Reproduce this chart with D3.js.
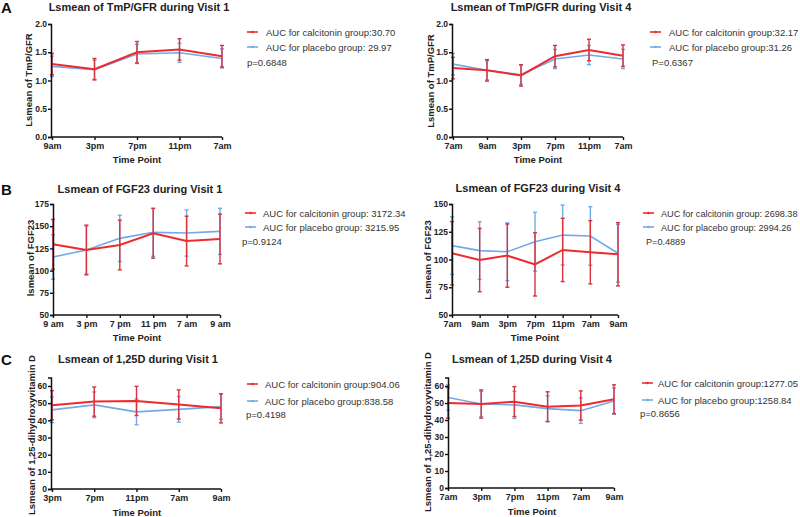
<!DOCTYPE html>
<html><head><meta charset="utf-8">
<script src="https://cdn.jsdelivr.net/npm/d3@7"></script>
<style>body{margin:0;background:#fff} svg{display:block}</style>
</head><body>
<svg id="chart" width="800" height="517"></svg>
<script>
// ---------- DATA ----------
const tmpV1Times = ["9am","3pm","7pm","11pm","7am"];
const tmpV1Calcitonin = [1.29,1.20,1.50,1.55,1.43];
const tmpV1CalcitoninErr = [0.19,0.19,0.19,0.19,0.19];
const tmpV1Placebo = [1.25,1.19,1.47,1.49,1.39];
const tmpV1PlaceboErr = [0.18,0.17,0.17,0.17,0.17];
const tmpV1Legend = ["AUC for calcitonin group:30.70","AUC for placebo group: 29.97","p=0.6848"];
const tmpTicks = [0,0.5,1.0,1.5,2.0];

const tmpV4Times = ["7am","9am","3pm","7pm","11pm","7am"];
const tmpV4Calcitonin = [1.22,1.18,1.09,1.43,1.54,1.44];
const tmpV4CalcitoninErr = [0.19,0.19,0.19,0.19,0.19,0.19];
const tmpV4Placebo = [1.29,1.18,1.10,1.38,1.45,1.38];
const tmpV4PlaceboErr = [0.19,0.17,0.17,0.17,0.17,0.17];
const tmpV4Legend = ["AUC for calcitonin group:32.17","AUC for placebo group:31.26","P=0.6367"];

const fgfV1Times = ["9 am","3 pm","7 pm","11 pm","7 am","9 am"];
const fgfV1Calcitonin = [129.6,123.2,128.8,142.0,133.3,135.6];
const fgfV1CalcitoninErr = [28,28,28,28,28,28];
const fgfV1Placebo = [115.3,123.2,136.3,143.1,142.3,144.2];
const fgfV1PlaceboErr = [25,27,26,27,26,26];
const fgfV1Legend = ["AUC for calcitonin group: 3172.34","AUC for placebo group: 3215.95","p=0.9124"];
const fgfV1Ticks = [50,75,100,125,150,175];

const fgfV4Times = ["7am","9am","3pm","7pm","11pm","7am","9am"];
const fgfV4Calcitonin = [105.6,99.5,103.5,95.6,108.6,106.5,104.7];
const fgfV4CalcitoninErr = [28.5,28.5,28.5,28.5,28.5,28.5,28.5];
const fgfV4Placebo = [112.5,108.0,107.0,116.0,122.0,121.2,105.6];
const fgfV4PlaceboErr = [26,26,26,26.5,27,26.4,26];
const fgfV4Legend = ["AUC for calcitonin group: 2698.38","AUC for placebo group: 2994.26","P=0.4889"];
const fgfV4Ticks = [50,75,100,125,150];

const vitV1Times = ["3pm","7pm","11pm","7am","9am"];
const vitV1Calcitonin = [48.8,50.9,51.3,49.2,47.0];
const vitV1CalcitoninErr = [8.5,8.5,8.5,8.5,8.5];
const vitV1Placebo = [46.1,49.0,44.9,46.4,48.0];
const vitV1PlaceboErr = [7.5,7.5,7.5,7.5,7.5];
const vitV1Legend = ["AUC for calcitonin group:904.06","AUC for placebo group:838.58","p=0.4198"];
const vitTicks = [0,10,20,30,40,50,60];

const vitV4Times = ["7am","3pm","7pm","11pm","7am","9am"];
const vitV4Calcitonin = [50.0,49.4,50.8,47.8,48.5,52.2];
const vitV4CalcitoninErr = [9,8.3,8.8,8.8,8.6,8.5];
const vitV4Placebo = [53.2,49.4,48.9,46.7,45.5,51.2];
const vitV4PlaceboErr = [7.4,7.5,8,7.5,7.5,7.7];
const vitV4Legend = ["AUC for calcitonin group:1277.05","AUC for placebo group:1258.84","p=0.8656"];

// ---------- LAYOUT ----------
const RED = "#ef2a2f", RED_ERR = "#d9323a", BLUE = "#72aae6";
const panels = [
  {times:tmpV1Times, red:tmpV1Calcitonin, redErr:tmpV1CalcitoninErr, blue:tmpV1Placebo, blueErr:tmpV1PlaceboErr,
   legend:tmpV1Legend, domain:[0,2], ticks:tmpTicks, fmt:d3.format(".1f"),
   title:"Lsmean of TmP/GFR during Visit 1", ylabel:"Lsmean of TmP/GFR", letter:"A",
   ax:51, xr:[52,222], yr:[137,24], titleX:139, titleY:11, ylabX:31.5, ylabY:80, tpX:137, tpY:163,
   lg:{lx:247, tx:266, r1:32, r2:47, px:247, py:65.5, fs:9.5}},
  {times:tmpV4Times, red:tmpV4Calcitonin, redErr:tmpV4CalcitoninErr, blue:tmpV4Placebo, blueErr:tmpV4PlaceboErr,
   legend:tmpV4Legend, domain:[0,2], ticks:tmpTicks, fmt:d3.format(".1f"),
   title:"Lsmean of TmP/GFR during Visit 4", ylabel:"Lsmean of TmP/GFR",
   ax:452, xr:[453,623], yr:[137,24], titleX:541, titleY:11, ylabX:433.5, ylabY:81, tpX:538, tpY:163,
   lg:{lx:650, tx:669, r1:32, r2:47, px:652, py:65.5, fs:9.5}},
  {times:fgfV1Times, red:fgfV1Calcitonin, redErr:fgfV1CalcitoninErr, blue:fgfV1Placebo, blueErr:fgfV1PlaceboErr,
   legend:fgfV1Legend, domain:[50,175], ticks:fgfV1Ticks, fmt:d3.format("d"),
   title:"Lsmean of FGF23 during Visit 1", ylabel:"lsmean of FGF23", letter:"B",
   ax:53, xr:[53,220], yr:[315,204], titleX:140, titleY:193, ylabX:33.5, ylabY:258, tpX:137, tpY:341,
   lg:{lx:245, tx:263, r1:213, r2:227, px:242, py:244.5, fs:9.5}},
  {times:fgfV4Times, red:fgfV4Calcitonin, redErr:fgfV4CalcitoninErr, blue:fgfV4Placebo, blueErr:fgfV4PlaceboErr,
   legend:fgfV4Legend, domain:[50,150], ticks:fgfV4Ticks, fmt:d3.format("d"),
   title:"Lsmean of FGF23 during Visit 4", ylabel:"Lsmean of FGF23",
   ax:452, xr:[452,618], yr:[315,204], titleX:538, titleY:192, ylabX:431, ylabY:260, tpX:535, tpY:341,
   lg:{lx:643, tx:661, r1:213, r2:227, px:646, py:245, fs:9.1}},
  {times:vitV1Times, red:vitV1Calcitonin, redErr:vitV1CalcitoninErr, blue:vitV1Placebo, blueErr:vitV1PlaceboErr,
   legend:vitV1Legend, domain:[0,65], ticks:vitTicks, fmt:d3.format("d"),
   title:"Lsmean of 1,25D during Visit 1", ylabel:"Lsmean of 1,25-dihydroxyvitamin D", letter:"C",
   ax:51, xr:[52,221], yr:[489,377.4], titleX:138, titleY:363, ylabX:35, ylabY:435, tpX:137, tpY:516,
   lg:{lx:247, tx:265, r1:384, r2:401, px:246, py:418, fs:9.5}},
  {times:vitV4Times, red:vitV4Calcitonin, redErr:vitV4CalcitoninErr, blue:vitV4Placebo, blueErr:vitV4PlaceboErr,
   legend:vitV4Legend, domain:[0,65], ticks:vitTicks, fmt:d3.format("d"),
   title:"Lsmean of 1,25D during Visit 4", ylabel:"Lsmean of 1,25-dihydroxyvitamin D",
   ax:448, xr:[448,614], yr:[488,377.5], titleX:532, titleY:363, ylabX:431, ylabY:432, tpX:532, tpY:515,
   lg:{lx:642, tx:658, r1:383, r2:400, px:640, py:417, fs:9.5}}
];

const svg = d3.select("#chart");
const FONT = "'Liberation Sans', Arial, Helvetica, sans-serif";
const NARROW = "'Liberation Sans Narrow', 'Arial Narrow', 'Liberation Sans', Arial, sans-serif";

panels.forEach(p => {
  const g = svg.append("g");
  const idx = p.times.map((_, i) => i);
  const x = d3.scalePoint().domain(idx).range(p.xr);
  const y = d3.scaleLinear().domain(p.domain).range(p.yr);

  // series: placebo first, calcitonin on top
  const series = [
    {vals:p.blue, err:p.blueErr, color:BLUE, ecolor:BLUE, w:1.6},
    {vals:p.red, err:p.redErr, color:RED, ecolor:RED_ERR, w:2}
  ];
  series.forEach(s => {
    const eg = g.append("g");
    idx.forEach(i => {
      const xx = x(i), y1 = y(s.vals[i] - s.err[i]), y2 = y(s.vals[i] + s.err[i]);
      eg.append("line").attr("x1",xx).attr("x2",xx).attr("y1",y1).attr("y2",y2)
        .attr("stroke",s.ecolor).attr("stroke-width",1.4);
      [y1,y2].forEach(yy => eg.append("line").attr("x1",xx-2).attr("x2",xx+2).attr("y1",yy).attr("y2",yy)
        .attr("stroke",s.ecolor).attr("stroke-width",1.4));
    });
    g.append("path").datum(idx)
      .attr("d", d3.line().x(i => x(i)).y(i => y(s.vals[i])))
      .attr("fill","none").attr("stroke",s.color).attr("stroke-width",s.w);
  });

  // axes
  const yAxis = d3.axisLeft(y).tickValues(p.ticks).tickFormat(p.fmt).tickSize(3).tickPadding(1);
  const ya = g.append("g").attr("transform",`translate(${p.ax},0)`).call(yAxis);
  const xAxis = d3.axisBottom(x).tickFormat(i => p.times[i]).tickSize(3).tickPadding(3);
  const xa = g.append("g").attr("transform",`translate(0,${p.yr[0]})`).call(xAxis);
  xa.select(".domain").attr("d", `M${p.ax},0H${p.xr[1]}`);
  [ya, xa].forEach(a => {
    a.selectAll(".domain").attr("stroke","#111").attr("stroke-width",1.5);
    a.selectAll(".tick line").attr("stroke","#111").attr("stroke-width",1.4);
  });
  ya.selectAll(".tick text").attr("font-family",FONT).attr("font-weight","bold").attr("font-size",8.5).attr("fill","#222");
  xa.selectAll(".tick text").attr("font-family",NARROW).attr("font-weight","bold").attr("font-size",9).attr("fill","#222");

  // texts
  g.append("text").attr("x",p.titleX).attr("y",p.titleY).attr("text-anchor","middle")
    .attr("font-family",FONT).attr("font-weight","bold").attr("font-size",11).attr("fill","#222").text(p.title);
  g.append("text").attr("transform",`translate(${p.ylabX},${p.ylabY}) rotate(-90)`).attr("text-anchor","middle")
    .attr("font-family",FONT).attr("font-weight","bold").attr("font-size",9.5).attr("fill","#222").text(p.ylabel);
  g.append("text").attr("x",p.tpX).attr("y",p.tpY).attr("text-anchor","middle")
    .attr("font-family",FONT).attr("font-weight","bold").attr("font-size",9.5).attr("fill","#222").text("Time Point");
  if (p.letter) {
    g.append("text").attr("x",1).attr("y",p.titleY+2).attr("font-family",FONT).attr("font-weight","bold")
      .attr("font-size",15).attr("fill","#111").text(p.letter);
  }

  // legend
  const L = p.lg;
  [[RED, L.r1, p.legend[0]], [BLUE, L.r2, p.legend[1]]].forEach(([c, ry, t]) => {
    g.append("line").attr("x1",L.lx).attr("x2",L.lx+11).attr("y1",ry).attr("y2",ry).attr("stroke",c).attr("stroke-width",1.6);
    g.append("circle").attr("cx",L.lx+5.5).attr("cy",ry).attr("r",1.2).attr("fill",c);
    g.append("text").attr("x",L.tx).attr("y",ry+3.5).attr("font-family",FONT).attr("font-size",L.fs).attr("fill","#333").text(t);
  });
  g.append("text").attr("x",L.px).attr("y",L.py).attr("font-family",FONT).attr("font-size",L.fs).attr("fill","#333").text(p.legend[2]);
});
</script>
</body></html>
